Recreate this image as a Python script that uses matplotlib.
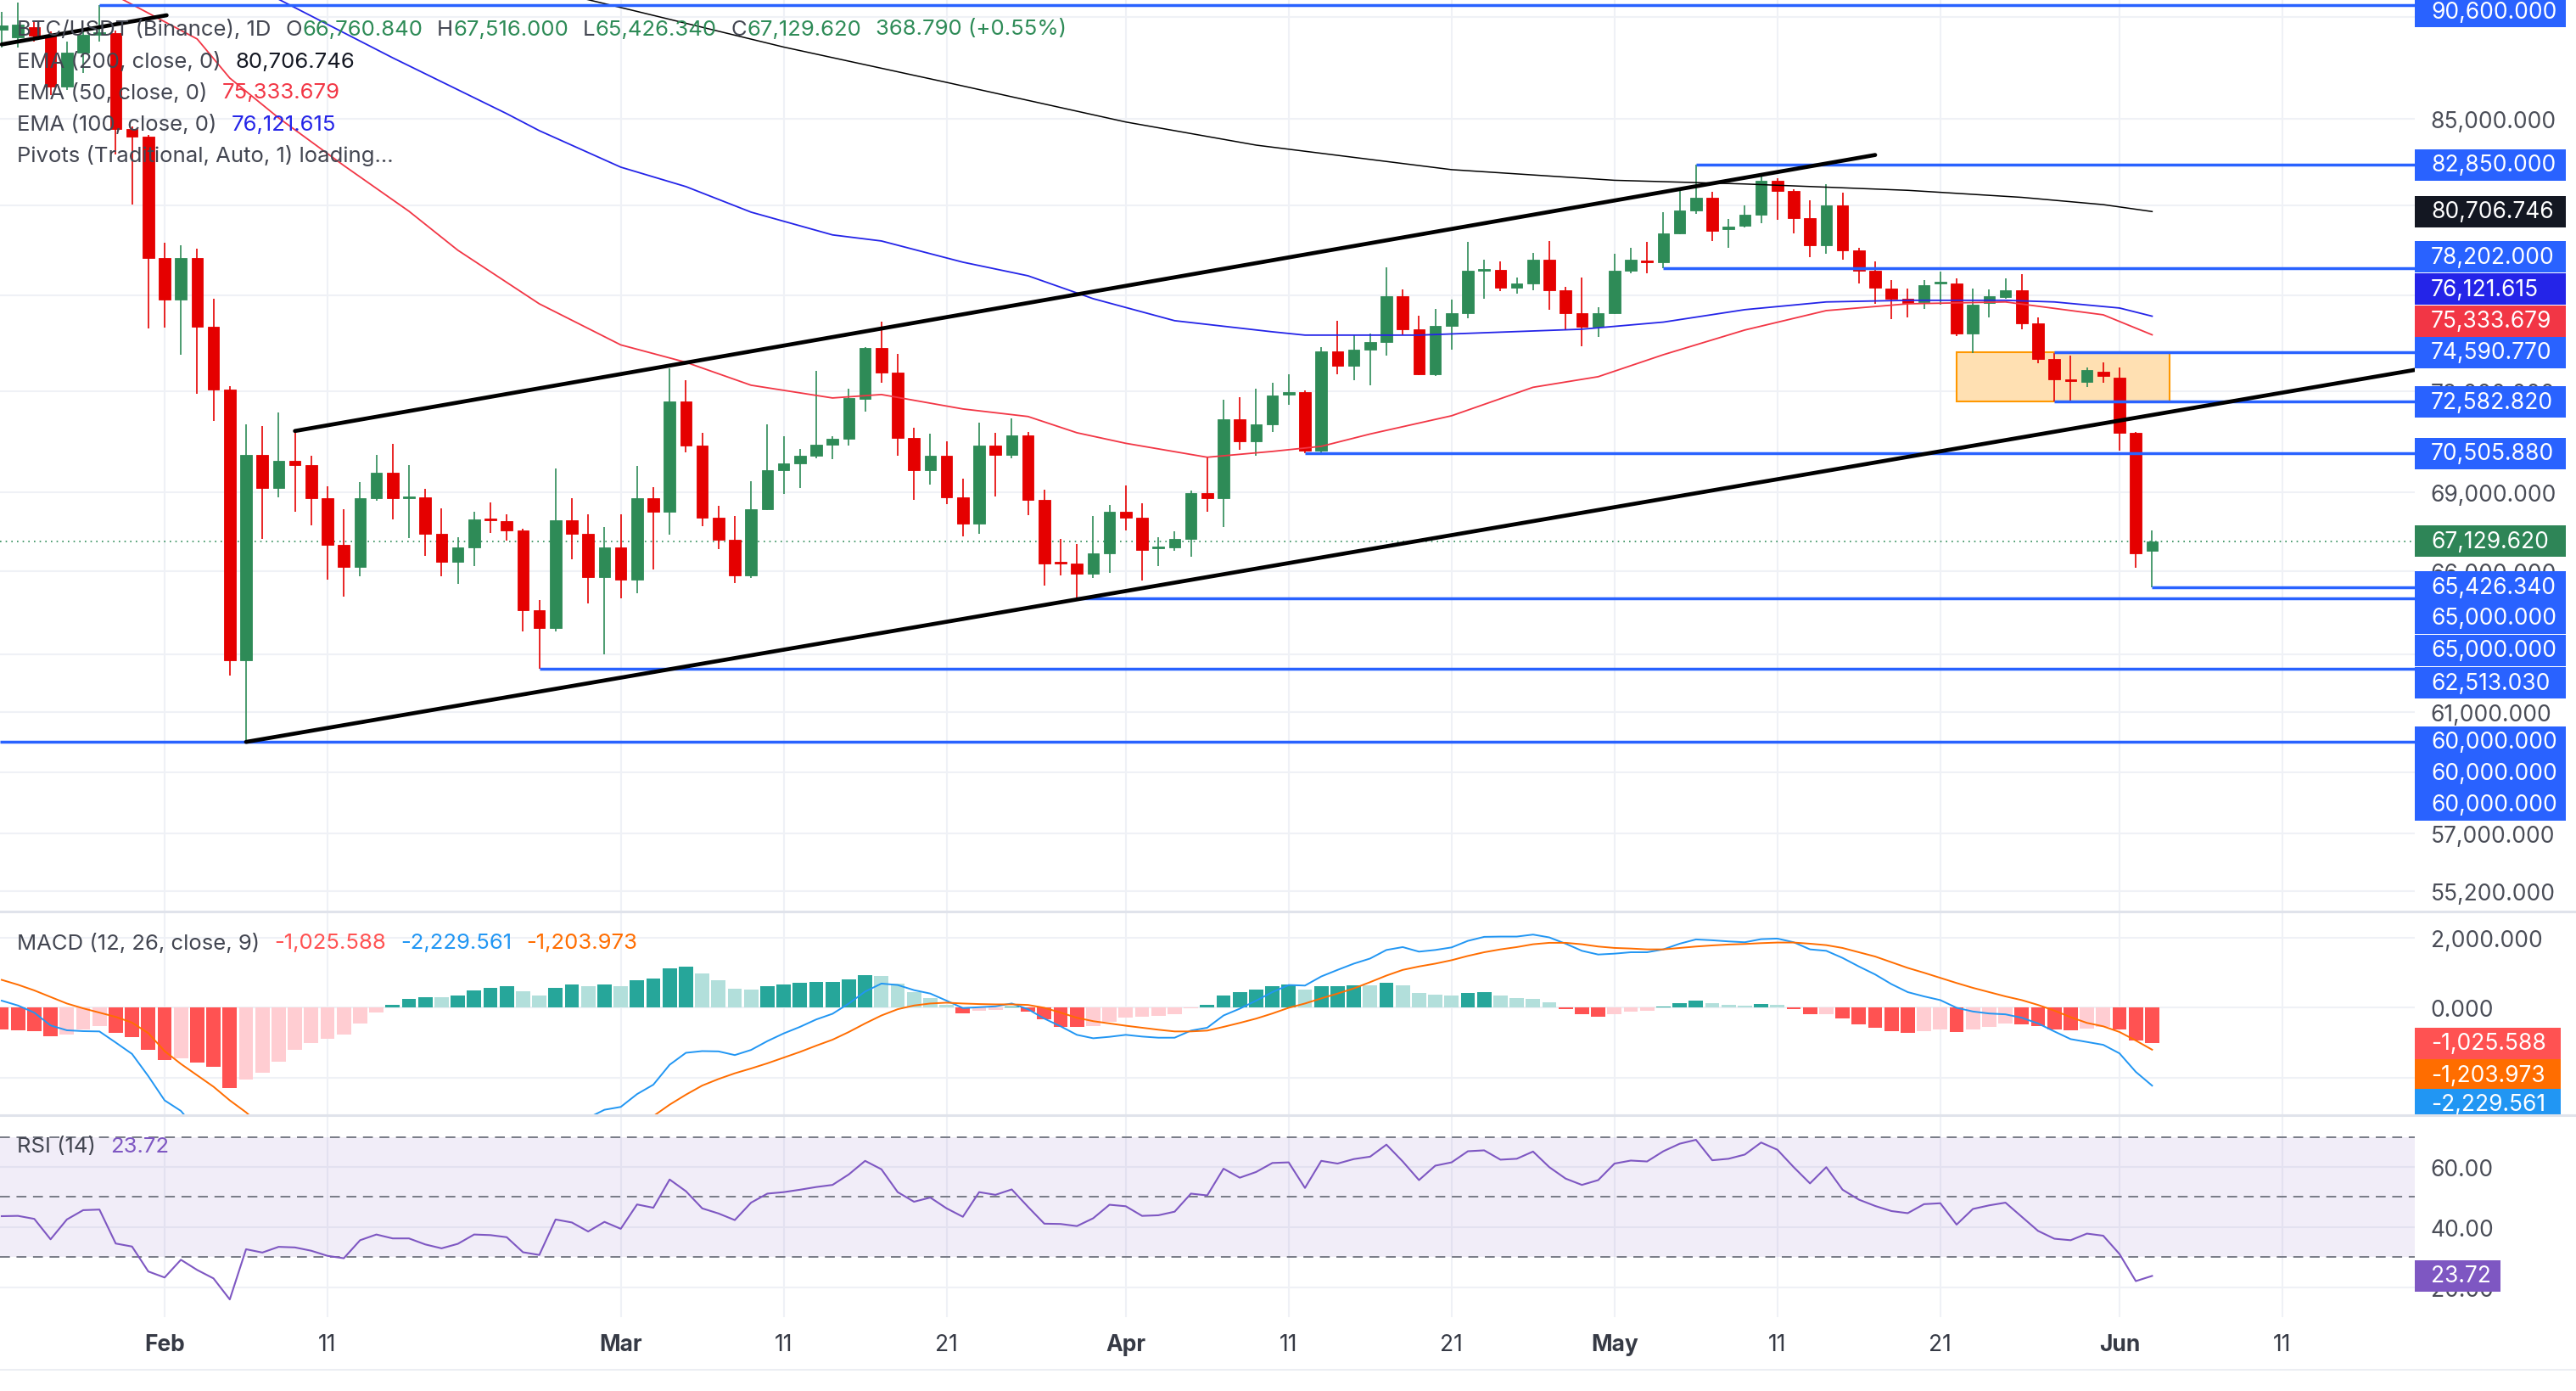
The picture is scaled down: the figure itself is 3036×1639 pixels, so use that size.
import matplotlib
matplotlib.use("Agg")
import matplotlib.pyplot as plt
import matplotlib.dates as mdates
from matplotlib.patches import Rectangle
from matplotlib.lines import Line2D
from matplotlib.transforms import Bbox
from matplotlib.ticker import NullLocator
import numpy as np
import pandas as pd

plt.rcParams['font.family'] = ['Inter', 'DejaVu Sans']

# ---------------- data (BTC/USDT 1D) ----------------
first_day = "2026-01-22"

open_ = [89340, 88960, 89470, 89090, 86550, 88210, 89090, 89170, 84520, 84160,
         78640, 76840, 78640, 75680, 73070, 62810, 70450, 69160, 70220, 70050,
         68770, 67000, 66170, 68770, 69750, 68770, 68800, 67410, 66360, 66900,
         67990, 67890, 67540, 64590, 63950, 67920, 67410, 65800, 66900, 65700,
         68770, 68250, 72590, 70820, 68020, 67190, 65860, 68340, 69850, 70120,
         70420, 70850, 71090, 72690, 74790, 73765, 71120, 69850, 70420, 68800,
         67790, 70820, 70450, 71220, 68700, 66360, 66300, 65920, 66680, 68250,
         68020, 66870, 66900, 67220, 68960, 68770, 71870, 70990, 71660, 72860,
         72960, 70620, 74640, 74040, 74720, 75030, 76980, 75570, 73700, 75710,
         76250, 78080, 78120, 77350, 77530, 78570, 77240, 76250, 75680, 76250,
         78080, 78530, 78460, 79730, 80760, 81340, 79920, 80070, 80570, 82110,
         81640, 80410, 79200, 80990, 78980, 78080, 77310, 76870, 76730, 77530,
         77530, 75390, 76690, 76940, 77240, 75820, 74330, 73490, 73380, 73800,
         73560, 71320, 66760.84]
high = [90240, 90700, 89720, 89260, 88750, 89300, 90600, 89300, 84640, 84250,
        79320, 79200, 79050, 76870, 73210, 71660, 71590, 72140, 71390, 70420,
        69220, 68340, 69390, 70450, 70890, 70050, 69120, 68375, 67280, 68250,
        68600, 68150, 67600, 64960, 69920, 68770, 68150, 67670, 68150, 70015,
        69190, 73940, 73450, 71320, 68470, 68080, 69420, 71660, 71190, 70683,
        73840, 71190, 73100, 74800, 75894, 74540, 71520, 71290, 70990, 69520,
        71730, 71320, 71900, 71356, 69090, 67220, 67030, 68080, 68510, 69260,
        68570, 67280, 67500, 69060, 70348, 72650, 72760, 73100, 73350, 73700,
        73030, 74822, 75930, 75320, 75390, 78230, 77270, 76150, 76440, 76840,
        79350, 78570, 78490, 77790, 78870, 79390, 77380, 77790, 76510, 78830,
        79090, 79350, 80680, 81680, 82850, 81610, 80380, 80990, 82340, 82230,
        81700, 81220, 81950, 81570, 79090, 78490, 77680, 77310, 77680, 78050,
        77750, 77310, 77270, 77750, 77940, 76070, 74570, 74470, 73970, 74190,
        73970, 71360, 67516.0]
low = [88460, 88460, 88750, 86140, 86380, 87210, 88750, 83330, 81030, 75610,
       75640, 74500, 72900, 71800, 62280, 60000, 67220, 68800, 68250, 67730,
       65700, 65080, 65830, 68670, 67950, 67250, 66580, 65830, 65550, 66210,
       67440, 67150, 63830, 62513.03, 63830, 66456, 64840, 63020, 65020, 65207,
       66080, 67380, 70550, 67700, 66840, 65580, 65770, 68310, 68930, 69160,
       70310, 70280, 70820, 72170, 73350, 70420, 68700, 69290, 68540, 67310,
       67410, 68830, 70310, 68120, 65490, 65860, 65000, 65770, 65950, 67540,
       65670, 66210, 66770, 66550, 68250, 67670, 70650, 70420, 71360, 72450,
       70505.88, 70520, 73700, 73450, 73240, 74468, 75360, 73660, 73630, 74720,
       76040, 76870, 77200, 77090, 77240, 76400, 75570, 74860, 75250, 76220,
       77970, 77970, 78202, 79690, 80610, 79390, 79090, 80000, 80190, 80340,
       79730, 78680, 78830, 78570, 77530, 76650, 76000, 76070, 76440, 76620,
       75290, 74570, 76070, 76870, 75570, 74150, 72582.82, 72582.82, 73170, 73350,
       70620, 66142, 65426.34]
close = [89550, 89600, 89050, 86550, 88210, 89090, 89220, 84520, 84160, 78640,
         76840, 78640, 75680, 73070, 62810, 70450, 69160, 70220, 70050, 68770,
         67000, 66170, 68770, 69750, 68770, 68830, 67410, 66360, 66900, 67950,
         67920, 67540, 64590, 63950, 67920, 67410, 65800, 66900, 65700, 68770,
         68250, 72590, 70820, 68020, 67190, 65860, 68340, 69850, 70120, 70420,
         70850, 71090, 72720, 74790, 73765, 71120, 69850, 70420, 68800, 67790,
         70820, 70450, 71220, 68700, 66300, 66300, 65920, 66680, 68250, 68020,
         66800, 66930, 67220, 68960, 68770, 71870, 70990, 71660, 72830, 72960,
         70620, 74640, 74040, 74720, 75030, 76981, 75570, 73700, 75710, 76250,
         78080, 78160, 77350, 77530, 78570, 77240, 76250, 75680, 76250, 78080,
         78570, 78460, 79730, 80760, 81340, 79850, 80030, 80570, 82110, 81640,
         80410, 79200, 80990, 78980, 78080, 77350, 76870, 76690, 77460, 77600,
         75390, 76620, 76980, 77240, 75820, 74330, 73490, 73420, 73870, 73630,
         71320, 66680, 67129.62]

ema200_dates = ["2026-02-26", "2026-03-02", "2026-03-11", "2026-03-21", "2026-04-01",
                "2026-04-09", "2026-04-21", "2026-05-01", "2026-05-09", "2026-05-19",
                "2026-05-26", "2026-05-31", "2026-06-03"]
ema200 = [91050, 90260, 88480, 86750, 84850, 83760, 82620, 82130, 81960, 81670,
          81350, 81020, 80706.746]
ema100_dates = ["2026-02-07", "2026-02-15", "2026-02-22", "2026-02-24", "2026-03-01",
                "2026-03-05", "2026-03-09", "2026-03-14", "2026-03-17", "2026-03-22",
                "2026-03-26", "2026-03-30", "2026-04-04", "2026-04-10", "2026-04-12",
                "2026-04-19", "2026-04-29", "2026-05-04", "2026-05-09", "2026-05-14",
                "2026-05-19", "2026-05-25", "2026-05-28", "2026-06-01", "2026-06-03"]
ema100 = [91300, 87950, 85245, 84440, 82735, 81840, 80680, 79660, 79390, 78455,
          77860, 76870, 75930, 75460, 75320, 75320, 75570, 75870, 76400, 76730,
          76800, 76800, 76730, 76470, 76121.615]
ema50_dates = ["2026-01-29", "2026-02-03", "2026-02-05", "2026-02-08", "2026-02-12",
               "2026-02-16", "2026-02-19", "2026-02-24", "2026-03-01", "2026-03-05",
               "2026-03-09", "2026-03-14", "2026-03-17", "2026-03-22", "2026-03-26",
               "2026-03-29", "2026-04-01", "2026-04-06", "2026-04-10", "2026-04-13",
               "2026-04-16", "2026-04-21", "2026-04-26", "2026-04-30", "2026-05-04",
               "2026-05-09", "2026-05-14", "2026-05-19", "2026-05-25", "2026-05-31",
               "2026-06-03"]
ema50 = [91050, 88880, 86960, 85043, 82810, 80720, 78980, 76650, 74910, 74185,
         73240, 72720, 72860, 72275, 71970, 71320, 70900, 70350, 70580, 70780,
         71270, 72000, 73155, 73590, 74500, 75535, 76360, 76650, 76730, 76180,
         75333.679]

macd_hist = [-634, -659, -683, -821, -780, -634, -537, -732, -854, -1220,
             -1488, -1455, -1561, -1683, -2293, -2049, -1854, -1537, -1220, -1024,
             -902, -780, -455, -146, 73, 244, 293, 285, 341, 488,
             561, 610, 463, 345, 553, 650, 602, 650, 602, 772,
             821, 1114, 1163, 967, 772, 528, 520, 602, 650, 699,
             724, 735, 797, 919, 910, 675, 431, 260, 73, -171,
             -98, -73, 25, -130, -341, -553, -560, -520, -398, -276,
             -270, -244, -195, -33, 65, 333, 431, 504, 602, 650,
             504, 602, 620, 630, 625, 699, 626, 407, 358, 333,
             407, 431, 333, 260, 255, 138, -49, -195, -268, -195,
             -125, -98, 16, 114, 187, 114, 65, 41, 89, 85,
             -49, -195, -190, -317, -472, -585, -683, -732, -683, -634,
             -707, -634, -561, -463, -470, -537, -634, -659, -610, -561,
             -634, -951, -1025.588]
macd_line = [195, 57, -146, -512, -650, -675, -683, -1000, -1325, -1959,
             -2650, -2951, -3500, -3950, -4900, -5000, -5100, -5000, -4900, -4800,
             -4800, -4800, -4600, -4400, -4200, -4000, -3950, -3900, -3800, -3650,
             -3550, -3450, -3500, -3550, -3300, -3200, -3150, -2919, -2837, -2472,
             -2203, -1634, -1293, -1244, -1252, -1358, -1211, -959, -740, -553,
             -341, -179, 114, 455, 683, 642, 496, 398, 195, -16,
             8, 33, 114, -49, -317, -537, -780, -878, -837, -780,
             -829, -862, -862, -659, -577, -228, -33, 195, 439, 642,
             626, 886, 1073, 1252, 1398, 1642, 1724, 1594, 1642, 1715,
             1902, 2016, 2024, 2024, 2081, 2000, 1821, 1618, 1512, 1537,
             1577, 1577, 1659, 1821, 1943, 1919, 1886, 1862, 1951, 1967,
             1862, 1659, 1618, 1415, 1171, 943, 667, 439, 317, 211,
             -8, -114, -171, -195, -293, -455, -683, -902, -984, -1065,
             -1309, -1837, -2229.561]
macd_signal = [789, 650, 488, 301, 114, -24, -146, -268, -431, -732,
               -1244, -1610, -1935, -2260, -2650, -2992, -3400, -3700, -3950, -4100,
               -4200, -4300, -4350, -4300, -4250, -4200, -4150, -4100, -4050, -4000,
               -3950, -3900, -3850, -3800, -3750, -3700, -3650, -3570, -3440, -3250,
               -3100, -2773, -2488, -2228, -2041, -1878, -1740, -1593, -1431, -1268,
               -1089, -919, -699, -455, -228, -49, 57, 114, 138, 114,
               98, 89, 89, 73, -8, -146, -293, -390, -455, -520,
               -577, -634, -683, -683, -659, -553, -439, -317, -171, -8,
               114, 260, 398, 545, 724, 911, 1073, 1171, 1252, 1350,
               1472, 1577, 1659, 1724, 1805, 1846, 1846, 1805, 1740, 1700,
               1683, 1659, 1659, 1699, 1740, 1772, 1797, 1813, 1837, 1854,
               1854, 1821, 1780, 1699, 1577, 1455, 1293, 1130, 992, 846,
               699, 561, 439, 317, 211, 73, -89, -276, -439, -537,
               -699, -943, -1203.973]
rsi = [43.6, 43.7, 42.7, 35.9, 42.5, 45.6, 45.8, 34.5, 33.5, 25.2,
       23.2, 29.1, 25.7, 22.9, 15.9, 32.6, 31.5, 33.4, 33.2, 32.1,
       30.4, 29.6, 35.6, 37.5, 36.2, 36.2, 34.2, 32.9, 34.4, 37.5,
       37.3, 36.6, 31.6, 30.7, 42.5, 41.5, 38.5, 41.7, 39.4, 47.5,
       46.4, 55.8, 51.9, 46.2, 44.5, 42.3, 48.1, 51.1, 51.6, 52.4,
       53.3, 54.0, 57.5, 62.0, 59.2, 51.6, 48.4, 49.8, 46.2, 43.4,
       51.6, 50.7, 52.5, 46.7, 41.1, 41.0, 40.3, 42.9, 47.4, 46.9,
       43.7, 43.9, 45.1, 51.1, 50.5, 59.4, 56.4, 58.3, 61.3, 61.5,
       53.0, 62.0, 61.1, 62.6, 63.4, 67.4, 61.8, 55.6, 60.4, 61.5,
       65.2, 65.5, 62.4, 62.7, 65.1, 59.9, 56.1, 54.0, 55.6, 61.1,
       62.1, 61.8, 65.2, 67.7, 69.0, 62.2, 62.7, 64.1, 68.1, 65.7,
       59.9, 54.5, 59.9, 52.4, 49.1, 47.0, 45.3, 44.6, 47.6, 47.9,
       40.8, 46.0, 47.2, 48.1, 43.4, 38.7, 36.1, 35.6, 37.8, 37.1,
       31.0, 22.0, 23.72]

pivot_levels = [90600, 82850, 78202, 74590.77, 72582.82, 70505.88, 65426.34, 65000, 62513.03, 60000]
pivot_from = ["2026-01-28", "2026-05-06", "2026-05-04", "2026-05-28", "2026-05-28",
              "2026-04-12", "2026-06-03", "2026-03-29", "2026-02-24", "2026-01-01"]

trend_lines = [(("2026-02-09", 71390), ("2026-05-17", 83300)),
               (("2026-02-06", 60000), ("2026-06-20", 73970)),
               (("2026-01-22", 88610), ("2026-02-01 03:00", 90066))]
zone_dates = ("2026-05-22", "2026-06-04 02:00")
zone_prices = (72582.82, 74590.77)

x_tick_dates = ["2026-02-01", "2026-02-11", "2026-03-01", "2026-03-11", "2026-03-21",
                "2026-04-01", "2026-04-11", "2026-04-21", "2026-05-01", "2026-05-11",
                "2026-05-21", "2026-06-01", "2026-06-11"]
x_tick_labels = ["Feb", "11", "Mar", "11", "21", "Apr", "11", "21", "May", "11", "21", "Jun", "11"]
price_ticks = [55200, 57000, 59000, 61000, 63000, 66000, 69000, 73000, 77000, 81000, 85000, 90000]
# ticks fully covered by the value tags keep their grid line but show no label
price_hidden = [59000, 63000, 77000, 81000, 90000]
macd_ticks = [-2000, 0, 2000]
macd_hidden = [-2000]
rsi_ticks = [20, 40, 60]

# ---------------- style / layout ----------------
W, H = 3036, 1640
PLOT_R, MAIN_B, MACD_B, RSI_B = 2846, 1075, 1315, 1553
PX_PER_DAY, FEB1_X = 19.2, 194

UP, DOWN = "#2e8b57", "#e50000"
PIVOT = "#2962ff"
C200, C50, C100 = "#000000", "#f23645", "#2424e8"
GRAY = "#434651"
AXTXT = "#4a4d57"
GRID = "#eff1f6"

fig = plt.figure(figsize=(W / 100, H / 100), dpi=100)
fig.patch.set_facecolor("white")


def rect_px(x0, y0, x1, y1):
    return [x0 / W, 1 - y1 / H, (x1 - x0) / W, (y1 - y0) / H]


ax = fig.add_axes(rect_px(0, 0, PLOT_R, MAIN_B))
ax_m = fig.add_axes(rect_px(0, MAIN_B, PLOT_R, MACD_B), sharex=ax)
ax_r = fig.add_axes(rect_px(0, MACD_B, PLOT_R, RSI_B), sharex=ax)

days = pd.date_range(first_day, periods=len(close), freq="D")
xd = mdates.date2num(days.to_pydatetime())
num = lambda s: mdates.date2num(pd.Timestamp(s).to_pydatetime())
feb1 = num("2026-02-01")
x_left = feb1 - FEB1_X / PX_PER_DAY
x_right = feb1 + (PLOT_R - FEB1_X) / PX_PER_DAY

# ---------------- price panel ----------------
ax.set_yscale("log")
o, h, l, c = map(np.array, (open_, high, low, close))
cc = np.where(c >= o, UP, DOWN)
ax.vlines(xd, l, h, colors=cc, lw=1.2, zorder=4)
ax.bar(xd, np.abs(c - o), bottom=np.minimum(o, c), width=0.7, color=cc,
       edgecolor=cc, linewidth=0.6, zorder=4)

ax.plot([num(d) for d in ema200_dates], ema200, color=C200, lw=1.1, zorder=5)
ax.plot([num(d) for d in ema100_dates], ema100, color=C100, lw=1.3, zorder=5)
ax.plot([num(d) for d in ema50_dates], ema50, color=C50, lw=1.3, zorder=5)

ax.add_patch(Rectangle((num(zone_dates[0]), zone_prices[0]),
                       num(zone_dates[1]) - num(zone_dates[0]),
                       zone_prices[1] - zone_prices[0],
                       facecolor="#ffe0b2", edgecolor="#ff9800", lw=1.5, zorder=2))

for lvl, d0 in zip(pivot_levels, pivot_from):
    ax.hlines(lvl, max(num(d0), x_left), x_right, color=PIVOT, lw=2.5, zorder=6)

for (d0, p0), (d1, p1) in trend_lines:
    ax.plot([num(d0), num(d1)], [p0, p1], color="black", lw=3.4,
            solid_capstyle="round", zorder=7)

ax.axhline(close[-1], color=UP, lw=1.2, ls=(0, (1, 3)), zorder=3)

ax.set_xlim(x_left, x_right)
ax.set_ylim(54574, 90881)
ax.set_yticks(price_ticks)
ax.set_yticklabels(["" if v in price_hidden else f"{v:,.3f}" for v in price_ticks])
ax.yaxis.set_minor_locator(NullLocator())

# ---------------- MACD panel ----------------
hist_cols = []
prev = macd_hist[0]
for v in macd_hist:
    if v >= 0:
        hist_cols.append("#26a69a" if v > prev else "#b2dfdb")
    else:
        hist_cols.append("#ffcdd2" if v > prev else "#ff5252")
    prev = v
ax_m.bar(xd, macd_hist, width=0.88, color=hist_cols, zorder=3)
ax_m.plot(xd, macd_line, color="#2196f3", lw=1.4, zorder=4)
ax_m.plot(xd, macd_signal, color="#ff6d00", lw=1.4, zorder=4)
ax_m.set_ylim(-3073, 2740)
ax_m.set_yticks(macd_ticks)
ax_m.set_yticklabels(["" if v in macd_hidden else f"{v:,.3f}" for v in macd_ticks])

# ---------------- RSI panel ----------------
ax_r.axhspan(30, 70, color="#7e57c2", alpha=0.1, lw=0, zorder=1)
for v in (70, 50, 30):
    ax_r.axhline(v, color="#787b86", lw=1.4, ls=(0, (6, 4)), zorder=2)
ax_r.plot(xd, rsi, color="#7e57c2", lw=1.5, zorder=3)
ax_r.set_ylim(10, 77.2)
ax_r.set_yticks(rsi_ticks)
ax_r.set_yticklabels([f"{v:.2f}" for v in rsi_ticks])

# ---------------- shared axis styling ----------------
ax_r.set_xticks([num(d) for d in x_tick_dates])
xl = ax_r.set_xticklabels(x_tick_labels)
for t in xl:
    if not t.get_text().isdigit():
        t.set_fontweight("bold")
for a in (ax, ax_m, ax_r):
    for s in a.spines.values():
        s.set_visible(False)
    a.yaxis.tick_right()
    a.tick_params(axis="y", length=0, pad=13.5, labelsize=19, labelcolor=AXTXT)
    a.tick_params(axis="x", length=0, labelbottom=False)
    a.grid(True, color=GRID, lw=1.5)
    a.set_axisbelow(True)
ax_r.tick_params(axis="x", labelbottom=True, pad=14, labelsize=19, labelcolor="#363a45")

for y in (MAIN_B, MACD_B):
    fig.add_artist(Line2D([0, 1], [1 - y / H] * 2, color="#e0e3eb", lw=2.2, zorder=20))
fig.add_artist(Line2D([0, 1], [1 - 1615 / H] * 2, color="#eceef3", lw=1.5, zorder=20))


# ---------------- right side value tags ----------------
def axis_tag(a, value, face, shift=0, width=178, clip=None):
    y = a.transData.transform((x_left, value))[1] - shift
    box = Rectangle((PLOT_R / W, (y - 18.5) / H), width / W, 37 / H,
                    transform=fig.transFigure, facecolor=face, edgecolor="none", zorder=10)
    fig.add_artist(box)
    txt = fig.text(2865 / W, y / H, f"{value:,.3f}" if a is not ax_r else f"{value:.2f}",
                   color="white", fontsize=19, va="center", ha="left", zorder=11)
    if clip is not None:
        box.set_clip_box(clip)
        txt.set_clip_box(clip)
        txt.set_clip_on(True)


main_tags = [(90600, PIVOT, 8), (82850, PIVOT, 0), (ema200[-1], "#131722", 0),
             (78202, PIVOT, -13), (ema100[-1], C100, -32), (ema50[-1], C50, -16),
             (74590.77, PIVOT, 0), (72582.82, PIVOT, 1), (70505.88, PIVOT, 0),
             (close[-1], "#2e8557", 0), (65426.34, PIVOT, 0), (65000, PIVOT, 23),
             (65000, PIVOT, 61), (62513.03, PIVOT, 17), (60000, PIVOT, 0),
             (60000, PIVOT, 37), (60000, PIVOT, 74)]
for v, col, sh in main_tags:
    axis_tag(ax, v, col, sh)

macd_clip = Bbox.from_extents(PLOT_R, H - MACD_B, W, H - MAIN_B)
axis_tag(ax_m, macd_hist[-1], "#ff5252", 0, 172, macd_clip)
axis_tag(ax_m, macd_signal[-1], "#ff6d00", 30, 172, macd_clip)
axis_tag(ax_m, macd_line[-1], "#2196f3", 22, 172, macd_clip)
axis_tag(ax_r, rsi[-1], "#7e57c2", 0, 101)

# ---------------- legends ----------------
renderer = fig.canvas.get_renderer()


def legend_row(y_px, pieces, size=18.5):
    x = 20
    for txt, col, gap in pieces:
        x += gap
        t = fig.text(x / W, 1 - y_px / H, txt, color=col, fontsize=size,
                     va="center", ha="left", zorder=12)
        x = t.get_window_extent(renderer).x1


g = 17
legend_row(35, [("BTC/USDT (Binance), 1D", GRAY, 0),
                ("O", GRAY, g), (f"{open_[-1]:,.3f}", UP, 0),
                ("H", GRAY, g), (f"{high[-1]:,.3f}", UP, 0),
                ("L", GRAY, g), (f"{low[-1]:,.3f}", UP, 0),
                ("C", GRAY, g), (f"{close[-1]:,.3f}", UP, 0),
                ("368.790 (+0.55%)", UP, g)])
legend_row(73, [("EMA (200, close, 0)", GRAY, 0), (f"{ema200[-1]:,.3f}", "#131722", g)])
legend_row(110, [("EMA (50, close, 0)", GRAY, 0), (f"{ema50[-1]:,.3f}", C50, g)])
legend_row(147, [("EMA (100, close, 0)", GRAY, 0), (f"{ema100[-1]:,.3f}", C100, g)])
legend_row(184, [("Pivots (Traditional, Auto, 1) loading...", GRAY, 0)])
legend_row(1112, [("MACD (12, 26, close, 9)", GRAY, 0),
                  (f"{macd_hist[-1]:,.3f}", "#ff5252", g),
                  (f"{macd_line[-1]:,.3f}", "#2196f3", g),
                  (f"{macd_signal[-1]:,.3f}", "#ff6d00", g)])
legend_row(1352, [("RSI (14)", GRAY, 0), (f"{rsi[-1]:.2f}", "#7e57c2", g)])

fig.savefig("out.png", dpi=100, facecolor="white")
